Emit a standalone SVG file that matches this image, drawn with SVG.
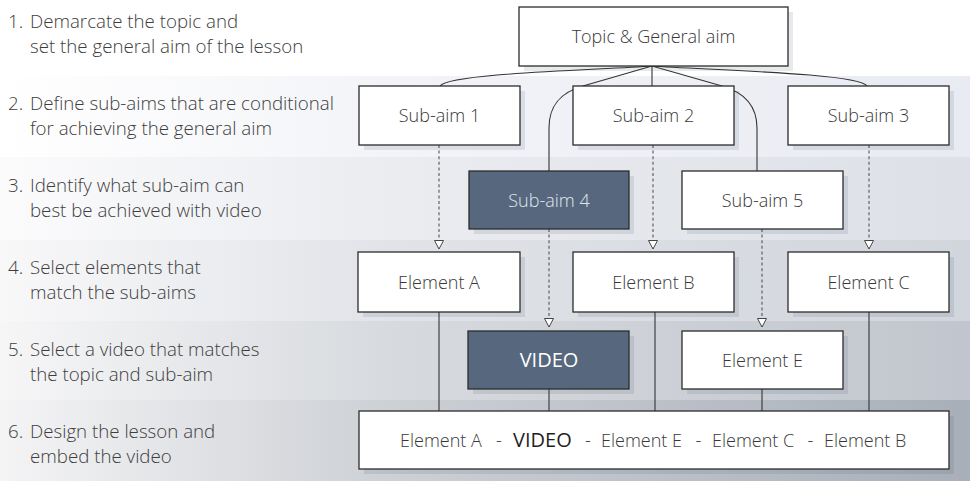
<svg xmlns="http://www.w3.org/2000/svg" width="970" height="481" viewBox="0 0 970 481">
<defs>
<linearGradient id="g2" x1="0" y1="0" x2="970" y2="0" gradientUnits="userSpaceOnUse"><stop offset="0" stop-color="#ffffff"/><stop offset="0.4" stop-color="#f3f4f8"/><stop offset="1" stop-color="#e8ebf2"/></linearGradient>
<linearGradient id="g3" x1="0" y1="0" x2="970" y2="0" gradientUnits="userSpaceOnUse"><stop offset="0" stop-color="#fbfbfc"/><stop offset="0.4" stop-color="#eaecf0"/><stop offset="1" stop-color="#dde0e7"/></linearGradient>
<linearGradient id="g4" x1="0" y1="0" x2="970" y2="0" gradientUnits="userSpaceOnUse"><stop offset="0" stop-color="#f8f8f9"/><stop offset="0.4" stop-color="#e1e3e8"/><stop offset="1" stop-color="#d1d5dc"/></linearGradient>
<linearGradient id="g5" x1="0" y1="0" x2="970" y2="0" gradientUnits="userSpaceOnUse"><stop offset="0" stop-color="#f6f6f7"/><stop offset="0.4" stop-color="#d7dade"/><stop offset="1" stop-color="#c1c6ce"/></linearGradient>
<linearGradient id="g6" x1="0" y1="0" x2="970" y2="0" gradientUnits="userSpaceOnUse"><stop offset="0" stop-color="#f4f4f5"/><stop offset="0.4" stop-color="#cdd0d5"/><stop offset="1" stop-color="#a8afb9"/></linearGradient>
<marker id="tri" markerWidth="12" markerHeight="11" refX="5.5" refY="9.5" orient="0" markerUnits="userSpaceOnUse">
<path d="M1,1 L10,1 L5.5,9.5 Z" fill="#ffffff" stroke="#444" stroke-width="1"/>
</marker>
</defs>
<style>
.lt{font-family:"Open Sans","Liberation Sans",sans-serif;font-size:18.7px;fill:#3d3d3d;font-weight:300}
.bt{font-family:"Open Sans","Liberation Sans",sans-serif;font-size:18px;fill:#383838;text-anchor:middle;font-weight:300}
.box{fill:#ffffff;stroke:#2b2b2b;stroke-width:1.3}
.dark{fill:#56677e;stroke:#2b2b2b;stroke-width:1.3}
.sh{fill:#3c4660;fill-opacity:0.12}
.ln{fill:none;stroke:#333;stroke-width:1.1}
.ds{fill:none;stroke:#555;stroke-width:1.1;stroke-dasharray:3 2.6}
</style>
<g id="background">
<rect x="0" y="0" width="970" height="76" fill="#ffffff"/>
<rect x="0" y="76" width="970" height="81" fill="url(#g2)"/>
<rect x="0" y="157" width="970" height="83" fill="url(#g3)"/>
<rect x="0" y="240" width="970" height="81" fill="url(#g4)"/>
<rect x="0" y="321" width="970" height="79" fill="url(#g5)"/>
<rect x="0" y="400" width="970" height="81" fill="url(#g6)"/>
</g>
<g id="steps">
<text class="lt" y="28"><tspan x="8">1.</tspan><tspan x="30">Demarcate the topic and</tspan></text>
<text class="lt" x="30" y="53">set the general aim of the lesson</text>
<text class="lt" y="110"><tspan x="8">2.</tspan><tspan x="30">Define sub-aims that are conditional</tspan></text>
<text class="lt" x="30" y="135">for achieving the general aim</text>
<text class="lt" y="192"><tspan x="8">3.</tspan><tspan x="30">Identify what sub-aim can</tspan></text>
<text class="lt" x="30" y="217">best be achieved with video</text>
<text class="lt" y="274"><tspan x="8">4.</tspan><tspan x="30">Select elements that</tspan></text>
<text class="lt" x="30" y="299">match the sub-aims</text>
<text class="lt" y="356"><tspan x="8">5.</tspan><tspan x="30">Select a video that matches</tspan></text>
<text class="lt" x="30" y="381">the topic and sub-aim</text>
<text class="lt" y="438"><tspan x="8">6.</tspan><tspan x="30">Design the lesson and</tspan></text>
<text class="lt" x="30" y="463">embed the video</text>
</g>
<g id="connectors">
<path class="ln" d="M652,66 C600,70 450,73 440,86"/>
<path class="ln" d="M652,66 C705,70 858,73 867,86"/>
<path class="ln" d="M652,66 L652,86"/>
<path class="ln" d="M652,66 L583,86 C562,92 549,104 549,128 L549,171"/>
<path class="ln" d="M652,66 L722,86 C743,92 757,104 757,128 L757,171"/>
<path class="ds" d="M439,145 L439,249" marker-end="url(#tri)"/>
<path class="ds" d="M653,145 L653,249" marker-end="url(#tri)"/>
<path class="ds" d="M869,145 L869,249" marker-end="url(#tri)"/>
<path class="ds" d="M549,229 L549,327" marker-end="url(#tri)"/>
<path class="ds" d="M762,229 L762,327" marker-end="url(#tri)"/>
<path class="ln" d="M439,312 L439,411"/>
<path class="ln" d="M549,389 L549,411"/>
<path class="ln" d="M655,312 L655,411"/>
<path class="ln" d="M762,389 L762,411"/>
<path class="ln" d="M869,312 L869,411"/>
</g>
<g id="topic">
<rect class="sh" x="524" y="12" width="269" height="59"/>
<rect class="box" x="519" y="7" width="269" height="59"/>
<text class="bt" x="653.5" y="43">Topic &amp; General aim</text>
</g>
<g id="subaim1">
<rect class="sh" x="364" y="91" width="161" height="59"/>
<rect class="box" x="359" y="86" width="161" height="59"/>
<text class="bt" x="439.5" y="122">Sub-aim 1</text>
</g>
<g id="subaim2">
<rect class="sh" x="578" y="91" width="161" height="59"/>
<rect class="box" x="573" y="86" width="161" height="59"/>
<text class="bt" x="653.5" y="122">Sub-aim 2</text>
</g>
<g id="subaim3">
<rect class="sh" x="793" y="91" width="161" height="59"/>
<rect class="box" x="788" y="86" width="161" height="59"/>
<text class="bt" x="868.5" y="122">Sub-aim 3</text>
</g>
<g id="subaim4">
<rect class="sh" x="474" y="176" width="160" height="58"/>
<rect class="dark" x="469" y="171" width="160" height="58"/>
<text class="bt" x="549" y="206.5" style="fill:#e2e7ee">Sub-aim 4</text>
</g>
<g id="subaim5">
<rect class="sh" x="687" y="176" width="161" height="58"/>
<rect class="box" x="682" y="171" width="161" height="58"/>
<text class="bt" x="762.5" y="206.5">Sub-aim 5</text>
</g>
<g id="elementA">
<rect class="sh" x="363" y="257" width="162" height="60"/>
<rect class="box" x="358" y="252" width="162" height="60"/>
<text class="bt" x="439" y="288.5">Element A</text>
</g>
<g id="elementB">
<rect class="sh" x="578" y="257" width="161" height="60"/>
<rect class="box" x="573" y="252" width="161" height="60"/>
<text class="bt" x="653.5" y="288.5">Element B</text>
</g>
<g id="elementC">
<rect class="sh" x="793" y="257" width="161" height="60"/>
<rect class="box" x="788" y="252" width="161" height="60"/>
<text class="bt" x="868.5" y="288.5">Element C</text>
</g>
<g id="video">
<rect class="sh" x="473" y="336" width="161" height="58"/>
<rect class="dark" x="468" y="331" width="161" height="58"/>
<text class="bt" x="549" y="367" style="fill:#ffffff;font-weight:400;font-size:20px">VIDEO</text>
</g>
<g id="elementE">
<rect class="sh" x="687" y="336" width="161" height="58"/>
<rect class="box" x="682" y="331" width="161" height="58"/>
<text class="bt" x="762.5" y="367">Element E</text>
</g>
<g id="lesson">
<rect class="sh" x="364" y="416" width="590" height="58"/>
<rect class="box" x="359" y="411" width="590" height="58"/>
<text class="lt" y="447" style="fill:#383838;font-size:18px"><tspan x="400">Element A</tspan><tspan x="496">-</tspan><tspan x="513" style="font-weight:500;font-size:20px;fill:#1e1e1e">VIDEO</tspan><tspan x="585">-</tspan><tspan x="601">Element E</tspan><tspan x="695.5">-</tspan><tspan x="712">Element C</tspan><tspan x="807.5">-</tspan><tspan x="824">Element B</tspan></text>
</g>
</svg>
